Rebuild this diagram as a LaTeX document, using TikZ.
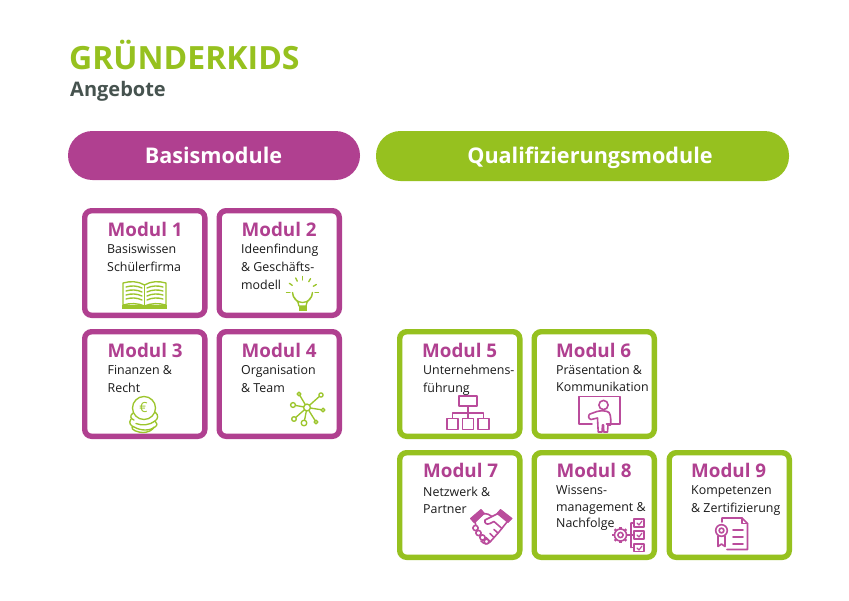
\documentclass[tikz,border=0pt]{standalone}
\usepackage{fontspec}
\setmainfont{Open Sans}
\definecolor{pur}{HTML}{B04090}
\definecolor{pursoft}{HTML}{BA4C9C}
\definecolor{grn}{HTML}{96C11F}
\definecolor{grnsoft}{HTML}{9CC52C}
\definecolor{slate}{HTML}{46534F}
\definecolor{ink}{HTML}{1A1A1A}
\tikzset{
  cardbox/.style={draw=#1,line width=5.4pt,rounded corners=7pt,fill=white},
  pill/.style={fill=#1,rounded corners=24.5pt},
  pilltext/.style={text=white,font=\fontsize{21.6}{24}\selectfont\bfseries,anchor=base,inner sep=0pt},
  modtitle/.style={text=pur,font=\fontsize{18.8}{20}\selectfont\bfseries,anchor=base west,inner sep=0pt},
  modbody/.style={text=ink,font=\fontsize{12.4}{14}\selectfont,anchor=base west,inner sep=0pt},
  icong/.style={draw=grnsoft,line width=1.35pt,line join=round,line cap=round},
  iconp/.style={draw=pursoft,line width=1.6pt,line join=round,line cap=round},
}
\newcommand{\card}[5]{% name,x0,y0,colour,number
  \draw[cardbox=#4] (#2+2.7,#3+2.7) rectangle (#2+122.8,#3+107.3);
}
\begin{document}
\begin{tikzpicture}[x=1pt,y=-1pt]
\useasboundingbox (0,0) rectangle (849,600);
\fill[white] (0,0) rectangle (849,600);
\node[anchor=base west,inner sep=0pt,text=grn,font=\fontsize{32}{34}\selectfont\bfseries] (title) at (69,69.5) {GRÜNDERKIDS};
\node[anchor=base west,inner sep=0pt,text=slate,font=\fontsize{20}{22}\selectfont\bfseries] (sub) at (70,96) {Angebote};
\fill[pill=pur] (68,131) rectangle (360,180);
\node[pilltext] (basis) at (213.5,163.5) {Basismodule};
\fill[pill=grn] (376,131) rectangle (789,181);
\node[pilltext] (quali) at (590,163) {Qualifizierungsmodule};
% cards
\card{c1}{82}{208}{pur}{1}
\card{c2}{216.5}{208}{pur}{2}
\card{c3}{82}{329}{pur}{3}
\card{c4}{216.5}{329}{pur}{4}
\card{c5}{397}{329}{grn}{5}
\card{c6}{531.5}{329}{grn}{6}
\card{c7}{397}{450}{grn}{7}
\card{c8}{531.5}{450}{grn}{8}
\card{c9}{666.5}{450}{grn}{9}
% Texts
\node[modtitle] (t1) at (107.5,236) {Modul 1};
\node[modbody] (b1a) at (107,253) {Basiswissen};
\node[modbody] (b1b) at (107,271) {Schülerfirma};
\node[modtitle] (t2) at (241.5,236) {Modul 2};
\node[modbody] (b2a) at (241,253) {Ideenfindung};
\node[modbody] (b2b) at (241,271) {\& Geschäfts-};
\node[modbody] (b2c) at (241,289) {modell};
\node[modtitle] (t3) at (107.5,357) {Modul 3};
\node[modbody] (b3a) at (107.5,374) {Finanzen \&};
\node[modbody] (b3b) at (107.5,392) {Recht};
\node[modtitle] (t4) at (241.5,357) {Modul 4};
\node[modbody] (b4a) at (241,374) {Organisation};
\node[modbody] (b4b) at (241,392) {\& Team};
\node[modtitle] (t5) at (422,357) {Modul 5};
\node[modbody] (b5a) at (423,374) {Unternehmens-};
\node[modbody] (b5b) at (423,392) {führung};
\node[modtitle] (t6) at (556,357) {Modul 6};
\node[modbody] (b6a) at (556,374) {Präsentation \&};
\node[modbody] (b6b) at (556,391) {Kommunikation};
\node[modtitle] (t7) at (423,477) {Modul 7};
\node[modbody] (b7a) at (423,496) {Netzwerk \&};
\node[modbody] (b7b) at (423,513) {Partner};
\node[modtitle] (t8) at (556.5,477) {Modul 8};
\node[modbody] (b8a) at (556,494) {Wissens-};
\node[modbody] (b8b) at (556,511) {management \&};
\node[modbody] (b8c) at (556,527) {Nachfolge};
\node[modtitle] (t9) at (691,477) {Modul 9};
\node[modbody] (b9a) at (691,494) {Kompetenzen};
\node[modbody] (b9b) at (691,512) {\& Zertifizierung};
% book icon
\begin{scope}[icong]
\draw (123,283) .. controls (130,281) and (138,281) .. (144.5,285) .. controls (151,281) and (159,281) .. (166,283) -- (166,305) .. controls (159,303) and (151,303) .. (144.5,306) .. controls (138,303) and (130,303) .. (123,305) -- cycle;
\draw (144.5,285) -- (144.5,306);
\fill[grnsoft] (122,305) rectangle (167,309);
\foreach \yy in {287,291,295,299}{
 \draw (126,\yy) .. controls (131,\yy-1.5) and (137,\yy-1.5) .. (142,\yy+1);
 \draw (147,\yy+1) .. controls (152,\yy-1.5) and (158,\yy-1.5) .. (163,\yy);
}
% bulb
\draw (299,306) .. controls (299,300) and (292.5,299) .. (292.5,292.5) arc[start angle=180,end angle=0,radius=10] .. controls (312.5,299) and (306,300) .. (306,306) -- cycle;
\fill[grnsoft] (298.5,306) rectangle (306.5,311);
\foreach \ang in {-180,-145,-115,-90,-60,-30,0}{
 \draw (302.5,292.5)++(\ang:12.5) -- ++(\ang:3.5);
}
% coins
\draw (144,408) circle[radius=11.5];
\node[inner sep=0pt,text=grnsoft,font=\fontsize{14}{14}\selectfont] (euro) at (143.5,407.5) {€};
\draw (133,413) .. controls (129,416) and (131,419) .. (134,420);
\draw (155,412) .. controls (159,415) and (158,419) .. (155,421);
\draw (131,419) .. controls (128,423) and (131,426) .. (134,427) .. controls (141,431) and (150,431) .. (155,427) .. controls (158,425) and (157,423) .. (155,421);
\draw (132,427) .. controls (131,430) and (138,432.5) .. (143,432.5) .. controls (148,432.5) and (153,430) .. (154,427);
\draw (136,423.5) .. controls (142,426) and (150,425) .. (155,421);
% network
\coordinate (hub) at (307,407.5);
\foreach \ex/\ey/\er in {299/394/1.9,321/395/2.1,293/405/2.4,323/410/1.8,294/419/2.3,304/423/2.8,316/422/1.9}{
 \draw (hub) -- (\ex,\ey);
 \draw[fill=white] (\ex,\ey) circle[radius=\er];
}
\draw[fill=white] (hub) circle[radius=3.4];
\end{scope}
\begin{scope}[iconp]
% org chart
\draw (459,396) rectangle (477,406);
\draw (468,406) -- (468,418) (452.5,418) -- (452.5,413) -- (483.5,413) -- (483.5,418);
\draw (447,418.5) rectangle (458,429.5) (462.5,418.5) rectangle (473.5,429.5) (478,418.5) rectangle (489,429.5);
% presenter
\draw (606.5,424) -- (620,424) -- (620,396.5) -- (579,396.5) -- (579,424) -- (592,424);
\draw (603.5,405) circle[radius=4.6];
\draw (590,414) -- (597,411.5) .. controls (600,410.5) and (607,410.5) .. (609,412.5) .. controls (611,414.5) and (611,422) .. (610.5,425) -- (608,425) -- (607.5,432) -- (603.8,432) -- (603.5,425) -- (602.5,425) -- (602,432) -- (598.2,432) -- (597.5,418) -- (591,419.5) .. controls (588,419) and (588,415) .. (590,414) -- cycle;
% handshake
\draw[fill=pursoft,line width=1pt] (470.5,518.5) -- (481,509.5) -- (484.5,513.5) -- (474,522.5) -- cycle;
\draw[fill=pursoft,line width=1pt] (512,518.5) -- (500.5,509.5) -- (497,513.5) -- (508,522.5) -- cycle;
\draw (483,514) .. controls (487,513) and (490,515) .. (492,516.5) -- (498,513.5);
\draw (482,515) -- (475,522) -- (476,526);
\draw (507,522) -- (499,532) -- (490,542) .. controls (487,545) and (484,544) .. (481,541);
\draw (492,516.5) -- (485,520) .. controls (484,523.5) and (487,525) .. (490,523.5) -- (494,521.5) -- (502,528.5);
\draw (498,533) -- (494,529.5) (494,537.5) -- (490,533.5) (490,541.5) -- (486,537.5);
\draw[fill=white] (475.5,528) circle[radius=2.6] (478.5,533) circle[radius=2.6] (482.5,537.5) circle[radius=2.6] (486.5,541.5) circle[radius=2.4];
% gear + checklist
\draw (620.5,535) circle[radius=2.6];
\draw (620.5,535) circle[radius=6];
\foreach \ang in {0,45,...,315}{ \draw[line width=2.2pt,line cap=butt] (620.5,535)++(\ang:5.8) -- ++(\ang:2.4); }
\draw (628,535) -- (634,535) (631,523) -- (631,547.5) (631,523) -- (634,523) (631,547.5) -- (634,547.5);
\draw (634,519) rectangle (644,527) (634,531) rectangle (644,539) (634,544) rectangle (644,551.5);
\draw[line width=1.2pt] (637,523) -- (639,525) -- (642,521) (637,535) -- (639,537) -- (642,533) (637,548) -- (639,550) -- (642,546);
% certificate
\draw (722,522) -- (722,518) -- (742,518) -- (747.5,523.5) -- (747.5,549.5) -- (727,549.5);
\draw (742,518) -- (742,523.5) -- (747.5,523.5);
\draw[fill=white] (721.5,530.5) circle[radius=5.8];
\draw (721.5,530.5) circle[radius=2.4];
\draw (718,536) -- (718,546.5) -- (721.5,544) -- (725,546.5) -- (725,536);
\draw[line width=1.9pt] (733,530) -- (743,530) (733,537) -- (743,537) (733,544) -- (743,544);
\end{scope}
\end{tikzpicture}
\end{document}
